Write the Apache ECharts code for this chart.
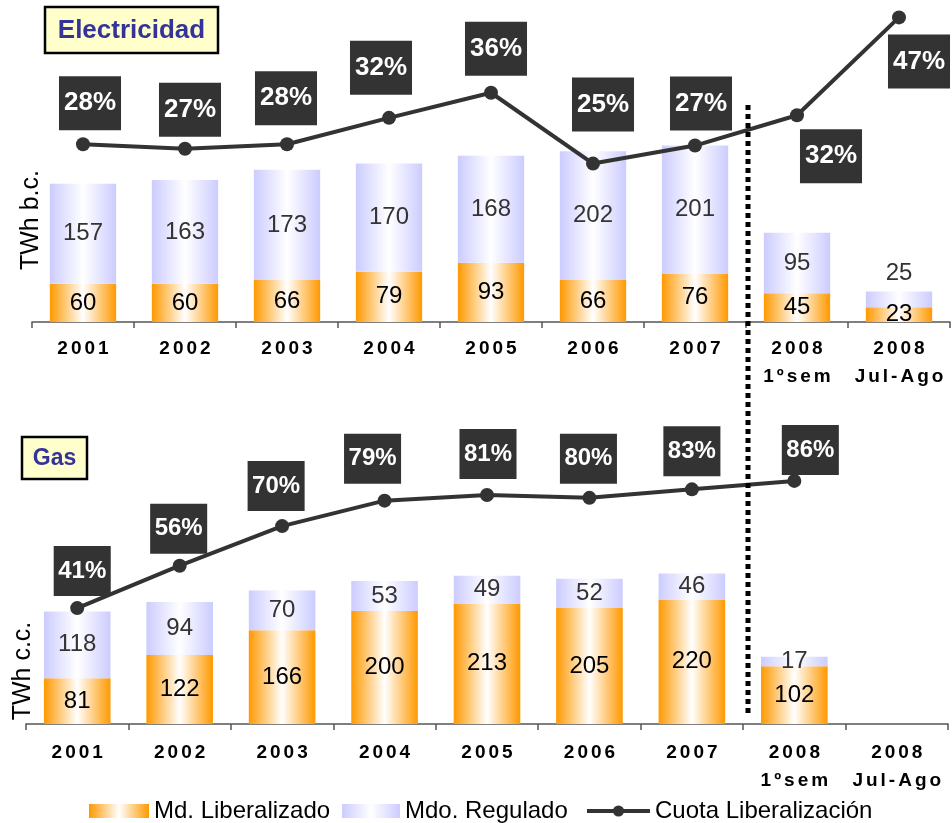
<!DOCTYPE html>
<html>
<head>
<meta charset="utf-8">
<script src="https://cdn.jsdelivr.net/npm/echarts@6/dist/echarts.min.js"></script>
<style>
html,body{margin:0;padding:0;background:#fff;}
#chart{width:952px;height:823px;}
</style>
</head>
<body>
<div id="chart"></div>
<script>
// ---- data ----
const categories = ['2001','2002','2003','2004','2005','2006','2007','2008\n1ºsem','2008\nJul-Ago'];
const elecLiberalizado = [60, 60, 66, 79, 93, 66, 76, 45, 23];
const elecRegulado = [157, 163, 173, 170, 168, 202, 201, 95, 25];
const elecCuota = [27.6, 26.9, 27.6, 31.7, 35.6, 24.6, 27.4, 32.1, 47.3];
const gasLiberalizado = [81, 122, 166, 200, 213, 205, 220, 102, null];
const gasRegulado = [118, 94, 70, 53, 49, 52, 46, 17, null];
const gasCuota = [41, 56, 70, 79, 81, 80, 83, 86, null];
const seriesNames = ['Md. Liberalizado', 'Mdo. Regulado', 'Cuota Liberalización'];
const panelTitles = ['Electricidad', 'Gas'];
const unitNames = ['TWh b.c.', 'TWh c.c.'];

// ---- layout (label box offsets from points) ----
const elecLabelOffsets = [[7,-41],[5,-39],[-1,-46],[-8,-50],[5,-44],[10,-59],[6,-42],[34,41],[20,44]];
const gasLabelOffsets = [[5,-37],[-1,-37],[-6,-40],[-12,-42],[1,-41],[-1,-39],[0,-38],[16,-31],[0,0]];

const FONT = '"Liberation Sans", Arial, sans-serif';
const orangeGrad = {type:'linear', x:0, y:0, x2:1, y2:0, colorStops:[
  {offset:0, color:'#FF9900'}, {offset:0.5, color:'#FFFFFF'}, {offset:1, color:'#FF9900'}]};
const lavGrad = {type:'linear', x:0, y:0, x2:1, y2:0, colorStops:[
  {offset:0, color:'#CCCCFF'}, {offset:0.5, color:'#FFFFFF'}, {offset:1, color:'#CCCCFF'}]};

function spaced(v){
  return v.split('\n').map(line => Array.from(line).map(ch => '{c|' + ch + '}').join('')).join('\n');
}

function xAxisFor(gi, margin){
  return {
    type:'category', gridIndex:gi, data:categories, boundaryGap:true,
    axisLine:{show:true, lineStyle:{color:'#555', width:1.5}},
    axisTick:{show:true, length:6, lineStyle:{color:'#555', width:1.5}},
    axisLabel:{
      interval:0, margin:margin, formatter:spaced,
      rich:{c:{fontFamily:FONT, fontWeight:'bold', fontSize:19, color:'#000', lineHeight:28, padding:[0,1.5,0,1.5]}}
    },
    splitLine:{show:false}
  };
}

function barSeries(name, data, xi, yi, grad, labelColor, overrides){
  return {
    name:name, type:'bar', stack:'s' + xi, xAxisIndex:xi, yAxisIndex:yi,
    barWidth:'65%',
    itemStyle:{color:grad},
    label:{show:true, position:'inside', fontFamily:FONT, fontSize:24, color:labelColor},
    data:data.map((v,i) => (overrides && overrides[i]) ? Object.assign({value:v}, overrides[i]) : v),
    z:2
  };
}

function lineSeries(data, xi, yi, offsets, fontSize, padV, padH){
  return {
    name:seriesNames[2], type:'line', xAxisIndex:xi, yAxisIndex:yi,
    symbol:'circle', symbolSize:14,
    lineStyle:{color:'#333333', width:4},
    itemStyle:{color:'#333333'},
    label:{show:true, position:'inside', fontFamily:FONT, fontWeight:'bold', fontSize:fontSize,
      lineHeight:fontSize, color:'#FFFFFF', backgroundColor:'#333333', padding:[padV,padH,padV,padH],
      formatter:p => Math.round(p.value) + '%'},
    data:data.map((v,i) => ({value:v, label:{offset:offsets[i]}})),
    z:5
  };
}

const chart = echarts.init(document.getElementById('chart'), null, {renderer:'canvas'});
const legendBase = {orient:'horizontal', padding:0, itemGap:10,
  textStyle:{fontFamily:FONT, fontSize:24, color:'#000'}};

chart.setOption({
  animation:false,
  backgroundColor:'#FFFFFF',
  grid:[
    {left:32, right:2, top:10, height:312},
    {left:26, right:4, top:430, height:294}
  ],
  xAxis:[xAxisFor(0, 13), xAxisFor(1, 15)],
  yAxis:[
    {type:'value', gridIndex:0, min:0, max:490, show:false},
    {type:'value', gridIndex:0, min:0, max:48.45, show:false},
    {type:'value', gridIndex:1, min:0, max:520, show:false},
    {type:'value', gridIndex:1, min:0, max:104, show:false}
  ],
  legend:[
    Object.assign({}, legendBase, {data:[seriesNames[0]], left:89, top:799, itemWidth:60, itemHeight:14, icon:'rect'}),
    Object.assign({}, legendBase, {data:[seriesNames[1]], left:342, top:799, itemWidth:58, itemHeight:14, icon:'rect'}),
    Object.assign({}, legendBase, {data:[seriesNames[2]], left:585, top:799, itemWidth:63, itemHeight:14,
      lineStyle:{width:4, color:'#333333'}, itemStyle:{color:'#333333'}})
  ],
  series:[
    barSeries(seriesNames[0], elecLiberalizado, 0, 0, orangeGrad, '#000'),
    barSeries(seriesNames[1], elecRegulado, 0, 0, lavGrad, '#333', {8:{label:{position:'top', distance:6}}}),
    lineSeries(elecCuota, 0, 1, elecLabelOffsets, 26, 14, 5),
    barSeries(seriesNames[0], gasLiberalizado, 1, 2, orangeGrad, '#000'),
    barSeries(seriesNames[1], gasRegulado, 1, 2, lavGrad, '#333'),
    lineSeries(gasCuota, 1, 3, gasLabelOffsets, 24, 13, 4.5)
  ],
  graphic:[
    {type:'rect', shape:{x:45, y:7, width:173, height:46}, style:{fill:'#FFFFCC', stroke:'#000', lineWidth:2.5}, z:10},
    {type:'text', x:131.5, y:31, style:{text:panelTitles[0], font:'bold 26px ' + FONT, fill:'#333399', align:'center', verticalAlign:'middle'}, z:11},
    {type:'rect', shape:{x:22, y:437, width:65, height:42}, style:{fill:'#FFFFCC', stroke:'#000', lineWidth:2.5}, z:10},
    {type:'text', x:54.5, y:459, style:{text:panelTitles[1], font:'bold 23px ' + FONT, fill:'#333399', align:'center', verticalAlign:'middle'}, z:11},
    {type:'text', x:31, y:220, rotation:Math.PI/2, style:{text:unitNames[0], font:'25px ' + FONT, fill:'#000', align:'center', verticalAlign:'middle'}, z:11},
    {type:'text', x:23, y:671, rotation:Math.PI/2, style:{text:unitNames[1], font:'25px ' + FONT, fill:'#000', align:'center', verticalAlign:'middle'}, z:11},
    {type:'line', shape:{x1:748, y1:105, x2:748, y2:717}, style:{stroke:'#000', lineWidth:5, lineDash:[5,4]}, z:12}
  ]
});
</script>
</body>
</html>
